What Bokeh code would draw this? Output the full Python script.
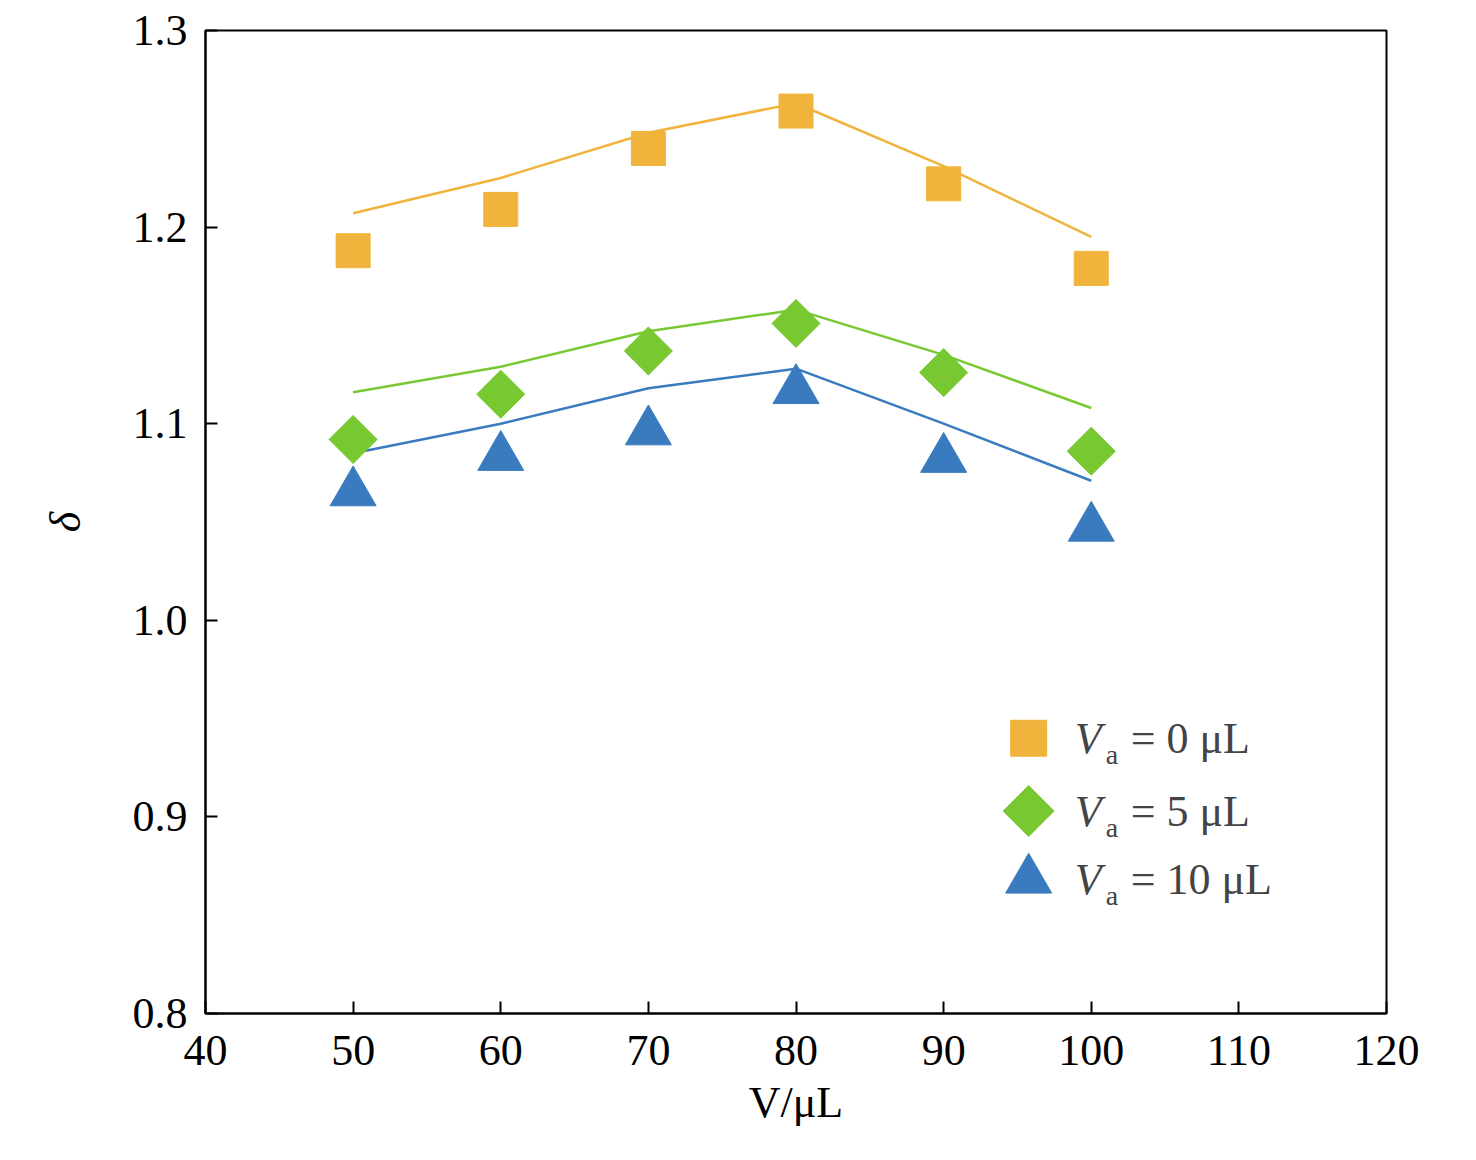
import math
from bokeh.plotting import figure
from bokeh.models import Range1d, FixedTicker, Label, CustomJSTickFormatter
from bokeh.embed import file_html
from bokeh.resources import INLINE

V = [50, 60, 70, 80, 90, 100]
d0_pts = [1.188, 1.209, 1.240, 1.259, 1.222, 1.179]
d0_fit = [1.207, 1.225, 1.248, 1.263, 1.231, 1.195]
d5_pts = [1.092, 1.115, 1.137, 1.151, 1.126, 1.086]
d5_fit = [1.116, 1.129, 1.147, 1.158, 1.135, 1.108]
d10_pts = [1.065, 1.083, 1.096, 1.117, 1.082, 1.047]
d10_fit = [1.085, 1.100, 1.118, 1.128, 1.100, 1.071]
x_ticks = [40, 50, 60, 70, 80, 90, 100, 110, 120]
y_ticks = [0.8, 0.9, 1.0, 1.1, 1.2, 1.3]
labels = ["0", "5", "10"]

C0, C5, C10 = "#F0B43C", "#78C832", "#3A7BBF"
FONT = "Liberation Serif"

p = figure(width=1476, height=1160, output_backend="svg", toolbar_location=None,
           x_range=Range1d(40, 120), y_range=Range1d(0.8, 1.3),
           min_border_left=205, min_border_top=30, min_border_right=90, min_border_bottom=147)
p.grid.visible = False
p.outline_line_color = "black"
p.outline_line_width = 2
for ax in (p.xaxis[0], p.yaxis[0]):
    ax.major_label_text_font = FONT
    ax.major_label_text_font_size = "44px"
    ax.major_label_text_color = "black"
    ax.major_tick_in = 12
    ax.major_tick_out = 0
    ax.minor_tick_line_color = None
    ax.axis_line_width = 2
    ax.major_tick_line_width = 2
    ax.axis_label_text_font = FONT
    ax.axis_label_text_font_size = "44px"
    ax.axis_label_text_color = "black"
p.xaxis.ticker = FixedTicker(ticks=x_ticks)
p.yaxis.ticker = FixedTicker(ticks=y_ticks)
p.yaxis.formatter = CustomJSTickFormatter(code="return tick.toFixed(1);")
p.xaxis.major_label_standoff = 22
p.yaxis.major_label_standoff = 18
p.xaxis.axis_label = "V/μL"
p.xaxis.axis_label_text_font_style = "normal"
p.xaxis.axis_label_standoff = 10
p.yaxis.axis_label = "δ"
p.yaxis.axis_label_text_font_style = "italic"
p.yaxis.axis_label_standoff = 40

p.line(V, d0_fit, color=C0, line_width=2.5)
p.line(V, d5_fit, color=C5, line_width=2.5)
p.line(V, d10_fit, color=C10, line_width=2.5)
p.scatter(V, d0_pts, marker="square", size=34, color=C0)
p.scatter(V, d5_pts, marker="square", size=34, angle=math.pi / 4, color=C5)
p.scatter(V, d10_pts, marker="triangle", size=46, color=C10)

# legend
lx = 95.76
ly = [0.940, 0.903, 0.868]
p.scatter([lx], [ly[0]], marker="square", size=36, color=C0)
p.scatter([lx], [ly[1]], marker="square", size=36, angle=math.pi / 4, color=C5)
p.scatter([lx], [ly[2]], marker="triangle", size=46, color=C10)
for yy, lab in zip(ly, labels):
    p.add_layout(Label(x=lx, y=yy, x_offset=46, text="V", text_font=FONT, text_font_style="italic",
                       text_font_size="44px", text_baseline="middle"))
    p.add_layout(Label(x=lx, y=yy, x_offset=77, y_offset=-16, text="a", text_font=FONT,
                       text_font_size="28px", text_baseline="middle"))
    p.add_layout(Label(x=lx, y=yy, x_offset=102, text="= " + lab + " μL", text_font=FONT,
                       text_font_size="44px", text_baseline="middle"))

open("out.html", "w").write(file_html(p, INLINE))
